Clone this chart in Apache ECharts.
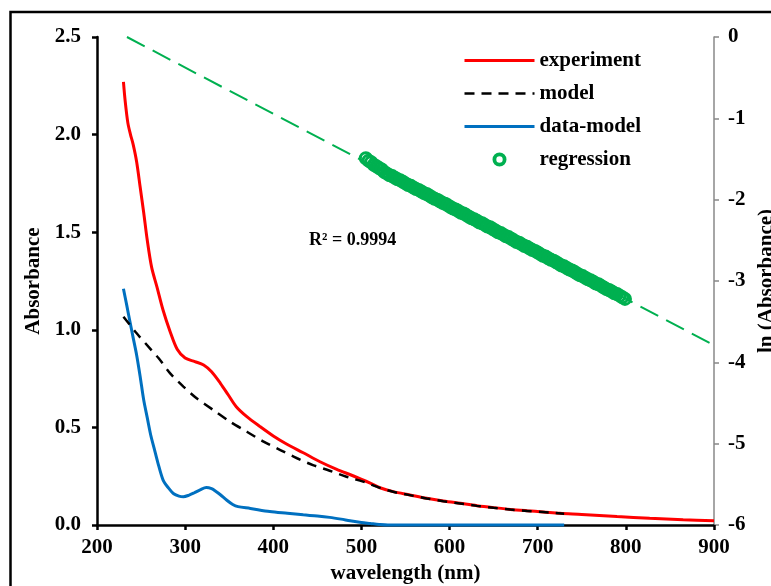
<!DOCTYPE html>
<html>
<head>
<meta charset="utf-8">
<title>Absorbance spectrum</title>
<script src="https://cdn.jsdelivr.net/npm/echarts@6/dist/echarts.min.js"></script>
<style>
  html, body { margin: 0; padding: 0; background: #fff; overflow: hidden; }
  #chart { width: 771px; height: 586px; }
</style>
</head>
<body>
<div id="chart"></div>
<script>
// Measured absorbance (experiment)
const expNm = [230, 232, 235, 238, 241, 245, 249, 253, 257, 262, 268, 275, 283, 291, 300, 311, 321, 330, 340, 349, 358, 370, 385, 400, 415, 434, 453, 472, 491, 510, 521, 536, 555, 574, 593, 612, 631, 650, 669, 688, 706, 725, 750, 790, 827, 865, 900];
const expAbs = [2.27, 2.17, 2.06, 2.00, 1.95, 1.86, 1.73, 1.60, 1.46, 1.32, 1.22, 1.10, 0.99, 0.90, 0.855, 0.837, 0.82, 0.785, 0.726, 0.666, 0.606, 0.555, 0.504, 0.456, 0.415, 0.370, 0.324, 0.285, 0.251, 0.214, 0.191, 0.171, 0.154, 0.137, 0.123, 0.111, 0.099, 0.089, 0.080, 0.073, 0.067, 0.060, 0.054, 0.043, 0.034, 0.027, 0.022];

// Fitted model
const modelNm = [230, 245, 260, 270, 283, 298, 313, 332, 351, 370, 389, 408, 427, 445, 464, 483, 502, 521, 536, 555, 574, 593, 612, 631, 650, 669, 688, 706, 730];
const modelAbs = [1.067, 0.982, 0.905, 0.854, 0.777, 0.709, 0.649, 0.589, 0.529, 0.478, 0.427, 0.384, 0.342, 0.307, 0.278, 0.247, 0.222, 0.190, 0.170, 0.153, 0.136, 0.122, 0.110, 0.098, 0.088, 0.079, 0.072, 0.066, 0.058];

// Residual: data minus model
const diffNm = [230, 234, 237, 241, 245, 249, 253, 257, 261, 265, 269, 275, 281, 287, 293, 298, 304, 310, 317, 324, 330, 335, 340, 347, 354, 360, 374, 396, 416, 434, 450, 464, 477, 487, 500, 510, 520, 530, 600, 730];
const diffAbs = [1.21, 1.12, 1.05, 0.96, 0.87, 0.76, 0.64, 0.55, 0.46, 0.39, 0.32, 0.23, 0.19, 0.16, 0.148, 0.145, 0.152, 0.164, 0.18, 0.192, 0.186, 0.172, 0.155, 0.128, 0.105, 0.094, 0.085, 0.069, 0.060, 0.052, 0.046, 0.039, 0.030, 0.022, 0.013, 0.008, 0.003, 0, 0, 0];

// ln(Absorbance) in the fitting window, 3 nm steps
const regNm = [505, 508, 511, 514, 517, 520, 523, 526, 529, 532, 535, 538, 541, 544, 547, 550, 553, 556, 559, 562,
               565, 568, 571, 574, 577, 580, 583, 586, 589, 592, 595, 598, 601, 604, 607, 610, 613, 616, 619, 622,
               625, 628, 631, 634, 637, 640, 643, 646, 649, 652, 655, 658, 661, 664, 667, 670, 673, 676, 679, 682,
               685, 688, 691, 694, 697, 700, 703, 706, 709, 712, 715, 718, 721, 724, 727, 730, 733, 736, 739, 742,
               745, 748, 751, 754, 757, 760, 763, 766, 769, 772, 775, 778, 781, 784, 787, 790, 793, 796, 799];
const regLn = [-1.49, -1.52, -1.54, -1.57, -1.59, -1.61, -1.63, -1.66, -1.68, -1.70, -1.71, -1.73, -1.75, -1.76, -1.78, -1.80, -1.82, -1.83, -1.85, -1.87,
               -1.88, -1.90, -1.92, -1.93, -1.95, -1.97, -1.99, -2.00, -2.02, -2.04, -2.05, -2.07, -2.09, -2.11, -2.12, -2.14, -2.16, -2.17, -2.19, -2.21,
               -2.23, -2.24, -2.26, -2.28, -2.29, -2.31, -2.33, -2.34, -2.36, -2.38, -2.40, -2.41, -2.43, -2.45, -2.46, -2.48, -2.50, -2.52, -2.53, -2.55,
               -2.57, -2.58, -2.60, -2.62, -2.63, -2.65, -2.67, -2.69, -2.70, -2.72, -2.74, -2.75, -2.77, -2.79, -2.81, -2.82, -2.84, -2.86, -2.87, -2.89,
               -2.91, -2.93, -2.94, -2.96, -2.98, -2.99, -3.01, -3.03, -3.04, -3.06, -3.08, -3.10, -3.11, -3.13, -3.15, -3.16, -3.18, -3.20, -3.22];

// Linear trendline of ln(Absorbance)
const trendNm = [234, 900];
const trendLn = [0, -3.79];
const rSquaredText = 'R² = 0.9994';

// Axis ranges
const xRange = { min: 200, max: 900, step: 100 };
const absRange = { min: 0, max: 2.5, step: 0.5 };
const lnRange = { min: -6, max: 0, step: 1 };

const zip = (xs, ys) => xs.map((x, i) => [x, ys[i]]);

const FONT = '"Liberation Serif", "Times New Roman", serif';
const boldText = { fontFamily: FONT, fontWeight: 'bold', fontSize: 21, color: '#000' };
const GREEN = '#00B050';

// Thick ring used as the legend marker of the scatter series
const RING_ICON = 'path://M7,0A7,7,0,1,1,6.99,0ZM7,3.8A3.2,3.2,0,1,0,7.01,3.8Z';

const chart = echarts.init(document.getElementById('chart'), null, { renderer: 'canvas', width: 771, height: 586 });

// Line entries in the legend show only their stroke, no marker
const hiddenMarker = { opacity: 0 };

chart.setOption({
  backgroundColor: '#fff',
  animation: false,
  grid: { left: 97, top: 37, width: 617, height: 488, containLabel: false, outerBoundsMode: 'none' },
  legend: {
    orient: 'vertical',
    left: 463,
    top: 50,
    padding: 0,
    itemWidth: 70,
    itemHeight: 14,
    itemGap: 12,
    textStyle: Object.assign({}, boldText, { lineHeight: 21 }),
    data: [
      { name: 'experiment', itemStyle: hiddenMarker, lineStyle: { width: 3 } },
      { name: 'model', itemStyle: hiddenMarker, lineStyle: { width: 2.5 } },
      { name: 'data-model', itemStyle: hiddenMarker, lineStyle: { width: 3 } },
      { name: 'regression', icon: RING_ICON, itemStyle: { color: GREEN, borderWidth: 0 } }
    ]
  },
  xAxis: {
    type: 'value',
    min: xRange.min,
    max: xRange.max,
    interval: xRange.step,
    name: 'wavelength (nm)',
    nameLocation: 'middle',
    nameGap: 37,
    nameTextStyle: boldText,
    axisLine: { show: true, onZero: false, lineStyle: { color: '#000', width: 2.5 } },
    axisTick: { show: true, inside: false, length: 5, lineStyle: { color: '#000', width: 2.5 } },
    axisLabel: Object.assign({}, boldText, { margin: 12 }),
    splitLine: { show: false }
  },
  yAxis: [
    {
      type: 'value',
      min: absRange.min,
      max: absRange.max,
      interval: absRange.step,
      position: 'left',
      name: 'Absorbance',
      nameLocation: 'middle',
      nameRotate: 90,
      nameGap: 52,
      nameTextStyle: boldText,
      axisLine: { show: true, onZero: false, lineStyle: { color: '#000', width: 2.5 } },
      axisTick: { show: true, inside: false, length: 5, lineStyle: { color: '#000', width: 2.5 } },
      axisLabel: Object.assign({}, boldText, { margin: 16, formatter: v => v.toFixed(1) }),
      splitLine: { show: false }
    },
    {
      type: 'value',
      min: lnRange.min,
      max: lnRange.max,
      interval: lnRange.step,
      position: 'right',
      name: 'ln (Absorbance)',
      nameLocation: 'middle',
      nameRotate: 90,
      nameGap: 41,
      nameTextStyle: boldText,
      axisLine: { show: true, onZero: false, lineStyle: { color: '#888', width: 1.5 } },
      axisTick: { show: true, inside: false, length: 5, lineStyle: { color: '#888', width: 1.5 } },
      axisLabel: Object.assign({}, boldText, { margin: 14 }),
      splitLine: { show: false }
    }
  ],
  graphic: [
    {
      type: 'rect',
      silent: true,
      shape: { x: 10.5, y: 12, width: 900, height: 700 },
      style: { fill: 'none', stroke: '#000', lineWidth: 2.5 }
    },
    {
      type: 'text',
      silent: true,
      left: 309,
      top: 231,
      style: { text: rSquaredText, font: 'bold 18px ' + FONT, fill: '#000' }
    }
  ],
  series: [
    {
      name: 'trend',
      type: 'line',
      yAxisIndex: 1,
      data: zip(trendNm, trendLn),
      showSymbol: false,
      symbol: 'none',
      clip: false,
      lineStyle: { color: GREEN, width: 2, type: [20, 9] },
      z: 1
    },
    {
      name: 'experiment',
      type: 'line',
      data: zip(expNm, expAbs),
      smooth: 0.3,
      symbol: 'none',
      clip: false,
      lineStyle: { color: '#FF0000', width: 3 },
      itemStyle: { color: '#FF0000' },
      z: 3
    },
    {
      name: 'model',
      type: 'line',
      data: zip(modelNm, modelAbs),
      smooth: 0.3,
      symbol: 'none',
      clip: false,
      lineStyle: { color: '#000', width: 2.5, type: [10, 7] },
      itemStyle: { color: '#000' },
      z: 4
    },
    {
      name: 'data-model',
      type: 'line',
      data: zip(diffNm, diffAbs),
      smooth: 0.3,
      symbol: 'none',
      clip: false,
      lineStyle: { color: '#0070C0', width: 3 },
      itemStyle: { color: '#0070C0' },
      z: 3
    },
    {
      name: 'regression',
      type: 'scatter',
      yAxisIndex: 1,
      data: zip(regNm, regLn),
      symbol: 'circle',
      symbolSize: 11,
      clip: false,
      // hollow rings: transparent fill so overlapping markers merge into one band
      itemStyle: { color: 'rgba(0,0,0,0)', borderColor: GREEN, borderWidth: 3, opacity: 1 },
      z: 2
    }
  ]
});
</script>
</body>
</html>
